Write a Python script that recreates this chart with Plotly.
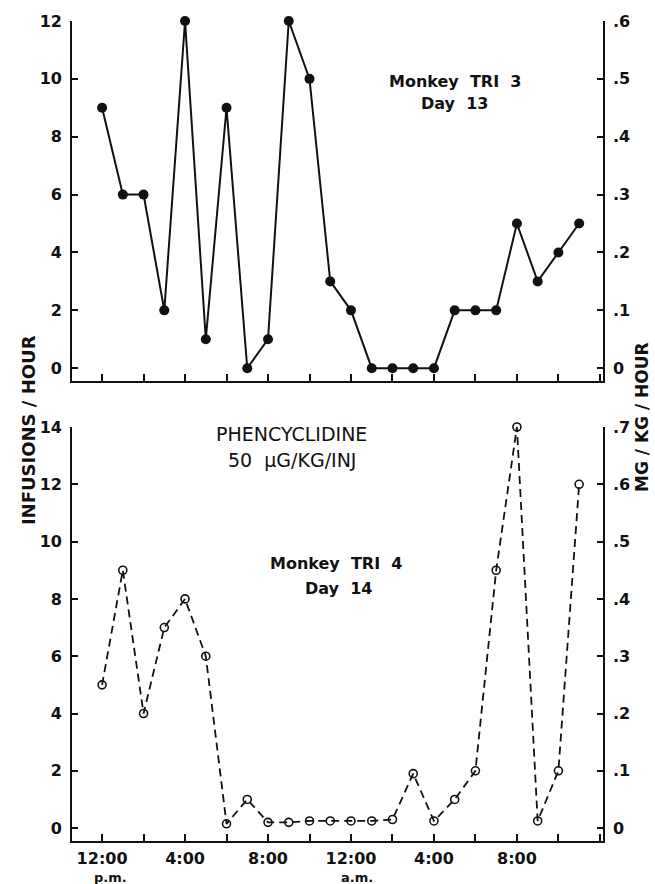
import plotly.graph_objects as go

# ---- data ----
hours = [0, 1, 2, 3, 4, 5, 6, 7, 8, 9, 10, 11, 12, 13, 14, 15, 16, 17, 18, 19, 20, 21, 22, 23]
tri3_day13 = [9, 6, 6, 2, 12, 1, 9, 0, 1, 12, 10, 3, 2, 0, 0, 0, 0, 2, 2, 2, 5, 3, 4, 5]
tri4_day14 = [5, 9, 4, 7, 8, 6, 0.15, 1, 0.2, 0.2, 0.25, 0.25, 0.25, 0.25, 0.3, 1.9,
              0.25, 1, 2, 9, 14, 0.25, 2, 12]

x_tickvals = [0, 2, 4, 6, 8, 10, 12, 14, 16, 18, 20, 22, 24]
x_ticktext = ["12:00", "", "4:00", "", "8:00", "", "12:00", "", "4:00", "", "8:00", "", ""]

top_left_ticks = [0, 2, 4, 6, 8, 10, 12]
bot_left_ticks = [0, 2, 4, 6, 8, 10, 12, 14]
top_right_ticks = [0, 0.1, 0.2, 0.3, 0.4, 0.5, 0.6]
top_right_text = ["0", ".1", ".2", ".3", ".4", ".5", ".6"]
bot_right_ticks = [0, 0.1, 0.2, 0.3, 0.4, 0.5, 0.6, 0.7]
bot_right_text = ["0", ".1", ".2", ".3", ".4", ".5", ".6", ".7"]

FONT = "DejaVu Sans"
BLACK = "#111111"

fig = go.Figure()

fig.add_trace(go.Scatter(
    x=hours, y=tri3_day13, xaxis="x2", yaxis="y2", mode="lines+markers",
    line=dict(color=BLACK, width=2),
    marker=dict(symbol="circle", size=10, color=BLACK),
    cliponaxis=False, showlegend=False, hoverinfo="skip"))

fig.add_trace(go.Scatter(
    x=hours, y=tri4_day14, xaxis="x", yaxis="y", mode="lines+markers",
    line=dict(color=BLACK, width=1.8, dash="8px,5px"),
    marker=dict(symbol="circle-open", size=8, color=BLACK, line=dict(width=1.6, color=BLACK)),
    cliponaxis=False, showlegend=False, hoverinfo="skip"))

# empty traces so the right-hand (mg/kg/hour) axes are drawn
fig.add_trace(go.Scatter(x=[], y=[], xaxis="x", yaxis="y3", showlegend=False, hoverinfo="skip"))
fig.add_trace(go.Scatter(x=[], y=[], xaxis="x2", yaxis="y4", showlegend=False, hoverinfo="skip"))

xr = [-1.45, 24.15]
common_x = dict(range=xr, showgrid=False, zeroline=False, showline=True, linecolor=BLACK,
                linewidth=1.6, ticks="inside", ticklen=7, tickwidth=1.5, tickcolor=BLACK,
                tickvals=x_tickvals)
common_y = dict(showgrid=False, zeroline=False, showline=True, linecolor=BLACK, linewidth=1.6,
                ticks="inside", ticklen=6, tickwidth=1.5, tickcolor=BLACK,
                tickfont=dict(family=FONT, size=16, color=BLACK, weight="bold"),
                ticklabelstandoff=5)

bot_dom = [0, 0.5049]
top_dom = [0.5607, 1.0]

fig.update_layout(
    width=655, height=884,
    margin=dict(l=72, r=52, t=17, b=43),
    paper_bgcolor="white", plot_bgcolor="white",
    font=dict(family=FONT, color=BLACK),
    xaxis=dict(**common_x, domain=[0, 1], anchor="y", ticktext=x_ticktext,
               tickfont=dict(family=FONT, size=16, color=BLACK, weight="bold"),
               ticklabelstandoff=2),
    xaxis2=dict(**common_x, domain=[0, 1], anchor="y2", showticklabels=False),
    yaxis=dict(**common_y, domain=bot_dom, anchor="x", range=[-0.45, 14], tickvals=bot_left_ticks),
    yaxis2=dict(**common_y, domain=top_dom, anchor="x2", range=[-0.45, 12], tickvals=top_left_ticks),
    yaxis3=dict(**common_y, domain=bot_dom, anchor="x", overlaying="y", side="right",
                range=[-0.0225, 0.7], tickvals=bot_right_ticks, ticktext=bot_right_text),
    yaxis4=dict(**common_y, domain=top_dom, anchor="x2", overlaying="y2", side="right",
                range=[-0.0225, 0.6], tickvals=top_right_ticks, ticktext=top_right_text),
)

ann_bold = dict(family=FONT, size=16, color=BLACK, weight="bold")
ann_reg = dict(family=FONT, size=19, color=BLACK)
small_bold = dict(family=FONT, size=13, color=BLACK, weight="bold")
annotations = [
    dict(text="Monkey  TRI  3", x=17.0, y=9.9, xref="x2", yref="y2", font=ann_bold),
    dict(text="Day  13", x=17.0, y=9.15, xref="x2", yref="y2", font=ann_bold),
    dict(text="PHENCYCLIDINE", x=9.14, y=13.75, xref="x", yref="y", font=ann_reg),
    dict(text="50  μG/KG/INJ", x=9.18, y=12.85, xref="x", yref="y", font=ann_reg),
    dict(text="Monkey  TRI  4", x=11.3, y=9.24, xref="x", yref="y", font=ann_bold),
    dict(text="Day  14", x=11.4, y=8.35, xref="x", yref="y", font=ann_bold),
    dict(text="p.m.", x=0.4, y=-0.0445, xref="x", yref="paper", font=small_bold),
    dict(text="a.m.", x=12.3, y=-0.0445, xref="x", yref="paper", font=small_bold),
    dict(text="INFUSIONS / HOUR", x=-0.083, y=0.501, xref="paper", yref="paper", textangle=-90,
         font=dict(family=FONT, size=18, color=BLACK, weight="bold")),
    dict(text="MG / KG / HOUR", x=1.0734, y=0.517, xref="paper", yref="paper", textangle=-90,
         font=dict(family=FONT, size=17, color=BLACK, weight="bold")),
]
for a in annotations:
    a.update(showarrow=False, xanchor="center", yanchor="middle")
fig.update_layout(annotations=annotations)

fig.write_html("out.html")
